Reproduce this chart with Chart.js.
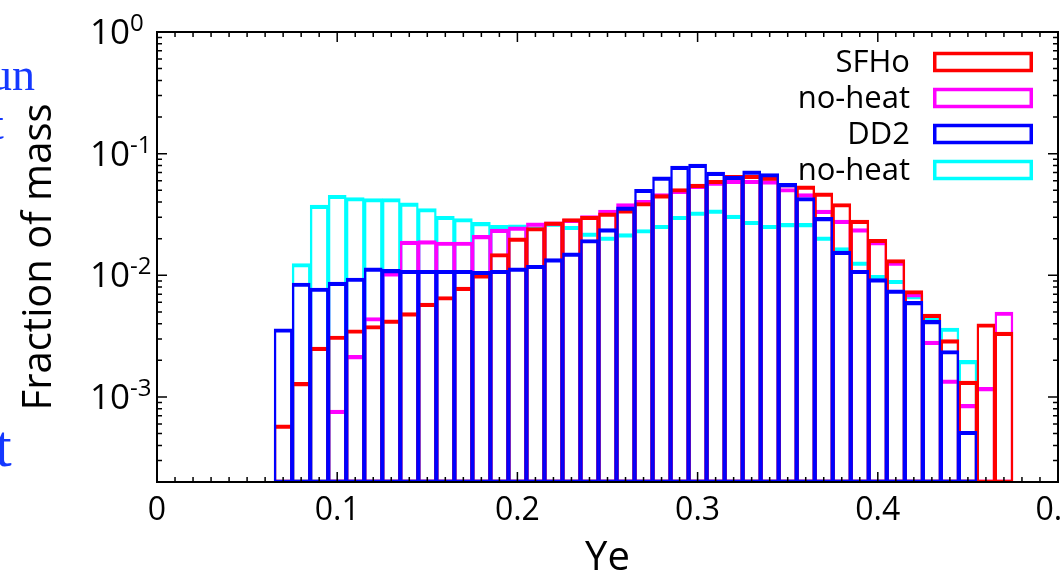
<!DOCTYPE html>
<html>
<head>
<meta charset="utf-8">
<script src="https://cdn.jsdelivr.net/npm/chart.js@4.4.1/dist/chart.umd.min.js"></script>
<style>
  html, body { margin: 0; padding: 0; background: #fff; overflow: hidden; }
  #wrap { position: relative; width: 1100px; height: 579px; }
  .cut { position: absolute; font-family: "Liberation Serif", serif; color: #1438ff; line-height: 1; white-space: nowrap; }
</style>
</head>
<body>
<div id="wrap">
  <canvas id="yeChart"></canvas>
  <div class="cut" style="left:-11px;top:52px;font-size:46px;">un</div>
  <div class="cut" style="left:-9px;top:101px;font-size:46px;">t</div>
  <div class="cut" style="left:-5px;top:416px;font-size:60px;">t</div>
</div>
<script>
// bin centres in Ye (width 0.01)
const yeBins = [0.07, 0.08, 0.09, 0.10, 0.11, 0.12, 0.13, 0.14, 0.15, 0.16,
  0.17, 0.18, 0.19, 0.20, 0.21, 0.22, 0.23, 0.24, 0.25, 0.26,
  0.27, 0.28, 0.29, 0.30, 0.31, 0.32, 0.33, 0.34, 0.35, 0.36,
  0.37, 0.38, 0.39, 0.40, 0.41, 0.42, 0.43, 0.44, 0.45, 0.46, 0.47];

const sfho = [5.9e-4, 1.32e-3, 2.57e-3, 3.17e-3, 3.57e-3, 3.87e-3, 4.3e-3, 4.93e-3, 5.9e-3, 6.7e-3,
  8.0e-3, 1.01e-2, 1.51e-2, 2.03e-2, 2.47e-2, 2.75e-2, 2.93e-2, 3.06e-2, 3.26e-2, 3.47e-2,
  3.97e-2, 4.61e-2, 5.17e-2, 5.61e-2, 6.05e-2, 6.65e-2, 6.65e-2, 6.45e-2, 5.69e-2, 5.43e-2,
  4.76e-2, 3.89e-2, 2.84e-2, 1.98e-2, 1.35e-2, 7.5e-3, 4.8e-3, 2.96e-3, 1.35e-3, 4.0e-3, 3.41e-3];

const sfhoNoHeat = [null, null, null, 7.8e-4, 2.2e-3, 4.5e-3, 1.05e-2, 1.91e-2, 1.93e-2, 1.88e-2,
  1.88e-2, 2.13e-2, 2.4e-2, 2.5e-2, 2.7e-2, 2.75e-2, 2.9e-2, 3.1e-2, 3.43e-2, 3.89e-2,
  4.14e-2, 4.7e-2, 5.01e-2, 5.5e-2, 5.86e-2, 6.05e-2, 6.05e-2, 6.0e-2, 5.17e-2, 4.7e-2,
  3.43e-2, 2.84e-2, 2.42e-2, 1.9e-2, 1.29e-2, 7.1e-3, 2.88e-3, 1.38e-3, 8.7e-4, 1.2e-3, 4.99e-3];

const dd2 = [3.64e-3, 8.65e-3, 7.87e-3, 8.8e-3, 9.5e-3, 1.15e-2, 1.12e-2, 1.1e-2, 1.1e-2, 1.1e-2,
  1.1e-2, 1.08e-2, 1.1e-2, 1.15e-2, 1.21e-2, 1.37e-2, 1.53e-2, 1.97e-2, 2.42e-2, 3.65e-2,
  5.1e-2, 6.44e-2, 7.89e-2, 8.2e-2, 7.05e-2, 6.53e-2, 7.22e-2, 6.87e-2, 5.69e-2, 4.36e-2,
  2.99e-2, 1.58e-2, 1.1e-2, 9.4e-3, 7.6e-3, 6.1e-3, 4.26e-3, 2.41e-3, 5.23e-4, null, null];

const dd2NoHeat = [null, 1.25e-2, 3.77e-2, 4.55e-2, 4.36e-2, 4.28e-2, 4.28e-2, 3.94e-2, 3.54e-2, 3.06e-2,
  2.93e-2, 2.72e-2, 2.58e-2, 2.6e-2, 2.5e-2, 2.7e-2, 2.53e-2, 2.23e-2, 2.07e-2, 2.2e-2,
  2.38e-2, 2.58e-2, 3.06e-2, 3.32e-2, 3.45e-2, 3.12e-2, 2.78e-2, 2.58e-2, 2.67e-2, 2.67e-2,
  2.07e-2, 1.69e-2, 1.29e-2, 1.0e-2, 9.1e-3, 6.85e-3, 4.45e-3, 3.69e-3, 2.0e-3, null, null];

const xTickValues = [0, 0.1, 0.2, 0.3, 0.4, 0.5];
const yDecades = [1e-3, 1e-2, 1e-1, 1];
const yDecadeExps = ['-3', '-2', '-1', '0'];

const FONT = '"Open Sans", "DejaVu Sans", sans-serif';

const toPoints = (vals) => yeBins.map((x, i) => ({ x: x, y: vals[i] }));

// gnuplot-like open boxes: shared side lines, full outline
const boxBorder = { top: 3.5, bottom: 2, left: 1.75, right: 1.75 };

const boxDataset = (label, vals, color, order) => ({
  label: label,
  data: toPoints(vals),
  borderColor: color,
  backgroundColor: 'rgba(0,0,0,0)',
  borderWidth: boxBorder,
  borderSkipped: false,
  order: order
});

// inward ticks, frame, y labels with exponents, legend
const gnuplotFrame = {
  id: 'gnuplotFrame',
  afterDatasetsDraw(chart) {
    const { ctx, chartArea: a, scales: { x, y } } = chart;
    ctx.save();
    ctx.strokeStyle = '#000';
    ctx.lineWidth = 1.5;
    ctx.beginPath();
    for (let i = 0; i < xTickValues.length; i++) {
      const px = x.getPixelForValue(xTickValues[i]);
      ctx.moveTo(px, a.bottom); ctx.lineTo(px, a.bottom - 10);
      ctx.moveTo(px, a.top); ctx.lineTo(px, a.top + 10);
      if (i < xTickValues.length - 1) {
        const step = (xTickValues[i + 1] - xTickValues[i]) / 10;
        for (let m = 1; m < 10; m++) {
          const mx = x.getPixelForValue(xTickValues[i] + m * step);
          ctx.moveTo(mx, a.bottom); ctx.lineTo(mx, a.bottom - 5);
          ctx.moveTo(mx, a.top); ctx.lineTo(mx, a.top + 5);
        }
      }
    }
    for (let d = yDecades[0] / 10; d <= 1; d *= 10) {
      for (let m = 1; m < 10; m++) {
        const v = d * m;
        if (v < y.min || v > y.max * 1.0001) continue;
        const py = y.getPixelForValue(v);
        const len = m === 1 ? 10 : 5;
        ctx.moveTo(a.left, py); ctx.lineTo(a.left + len, py);
        ctx.moveTo(a.right, py); ctx.lineTo(a.right - len, py);
      }
    }
    ctx.stroke();
    ctx.lineWidth = 2;
    ctx.strokeRect(a.left, a.top, a.right - a.left, a.bottom - a.top);
    ctx.restore();
  },
  afterDraw(chart) {
    const { ctx, chartArea: a, scales: { y } } = chart;
    ctx.save();
    ctx.fillStyle = '#000';
    yDecades.forEach((v, i) => {
      const py = y.getPixelForValue(v);
      ctx.font = '35px ' + FONT;
      ctx.textAlign = 'right';
      ctx.textBaseline = 'middle';
      ctx.fillText('10', a.left - 27, py + 2);
      ctx.font = '24px ' + FONT;
      ctx.textAlign = 'left';
      ctx.textBaseline = 'alphabetic';
      ctx.fillText(yDecadeExps[i], a.left - 27, py - 1);
    });
    // legend: text right-aligned, open box sample on the right
    const textRight = a.right - 148;
    const boxLeft = a.right - 125;
    const boxRight = a.right - 25;
    chart.data.datasets.forEach((ds, i) => {
      const cy = a.top + 30 + i * 36;
      ctx.font = '31px ' + FONT;
      ctx.textAlign = 'right';
      ctx.textBaseline = 'middle';
      ctx.fillStyle = '#000';
      ctx.fillText(ds.label, textRight, cy + 1);
      ctx.strokeStyle = ds.borderColor;
      ctx.lineWidth = 3.5;
      ctx.strokeRect(boxLeft + 1.75, cy - 8.5, boxRight - boxLeft - 3.5, 17);
    });
    ctx.restore();
  }
};

const ctx = document.getElementById('yeChart').getContext('2d');
new Chart(ctx, {
  type: 'bar',
  data: {
    datasets: [
      boxDataset('SFHo', sfho, '#ff0000', 1),
      boxDataset('no-heat', sfhoNoHeat, '#ff00ff', 2),
      boxDataset('DD2', dd2, '#0000ff', 0),
      boxDataset('no-heat', dd2NoHeat, '#00ffff', 3)
    ]
  },
  options: {
    responsive: true,
    maintainAspectRatio: false,
    animation: false,
    events: [],
    layout: { padding: { left: 0, top: 32, right: 42, bottom: 0 } },
    datasets: { bar: { grouped: false, barPercentage: 1, categoryPercentage: 1 } },
    plugins: { legend: { display: false }, tooltip: { enabled: false } },
    scales: {
      x: {
        type: 'linear',
        min: 0,
        max: 0.5,
        offset: false,
        grid: { display: false, drawTicks: false },
        border: { display: false },
        afterBuildTicks: (s) => { s.ticks = xTickValues.map((v) => ({ value: v })); },
        ticks: {
          color: '#000',
          padding: 10,
          autoSkip: false,
          maxRotation: 0,
          font: { family: FONT, size: 32 },
          callback: (v) => String(Number(v.toFixed(1)))
        },
        title: {
          display: true,
          text: 'Ye',
          color: '#000',
          padding: 0,
          font: { family: FONT, size: 40, lineHeight: 1 }
        },
        afterFit: (s) => { s.height = 97; }
      },
      y: {
        type: 'logarithmic',
        min: 2e-4,
        max: 1,
        grid: { display: false, drawTicks: false },
        border: { display: false },
        ticks: { display: false },
        title: {
          display: true,
          text: 'Fraction of mass',
          color: '#000',
          padding: { top: 16, bottom: 0 },
          font: { family: FONT, size: 40, lineHeight: 1.2 }
        },
        afterFit: (s) => { s.width = 157; }
      }
    }
  },
  plugins: [gnuplotFrame]
});
</script>
</body>
</html>
